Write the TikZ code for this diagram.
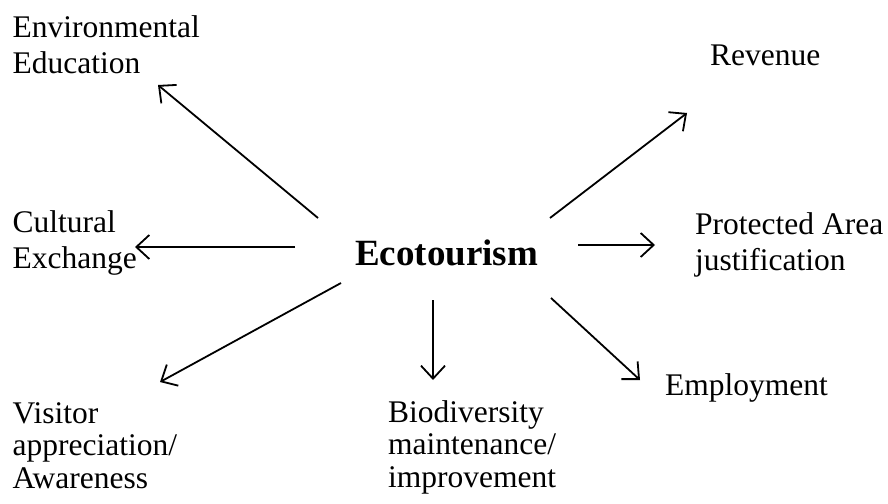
\documentclass[tikz,border=0pt]{standalone}
\usepackage{fontspec}
\setmainfont{Liberation Serif}
\usetikzlibrary{arrows.meta}
\begin{document}
\begin{tikzpicture}[x=1pt,y=-1pt,
  lbl/.style={anchor=base west, inner sep=0pt, align=left, font=\fontsize{31.5}{36}\selectfont},
  tight/.style={font=\fontsize{31.5}{32.5}\selectfont},
  arr/.style={-{Straight Barb[length=13pt,width=24pt,line width=1.8pt]}, line width=1.8pt}]
\useasboundingbox (0,0) rectangle (888,503);
% labels (anchor = baseline of last line)
\node[anchor=base west, inner sep=0pt, font=\bfseries\fontsize{37}{44}\selectfont] (eco) at (355,265) {Ecotourism};
\node[lbl] (env) at (12.5,74) {Environmental\\Education};
\node[lbl] (rev) at (710,65) {Revenue};
\node[lbl] (cul) at (12.5,268) {Cultural\\Exchange};
\node[lbl] (pro) at (695,270) {Protected Area\\justification};
\node[lbl,tight] (vis) at (12.5,488) {Visitor\\appreciation/\\Awareness};
\node[lbl,tight] (bio) at (388,487) {Biodiversity\\maintenance/\\improvement};
\node[lbl] (emp) at (665,395) {Employment};
% connector ends
\coordinate (t1) at (318,218);  \coordinate (h1) at (158,85);
\coordinate (t2) at (550,218);  \coordinate (h2) at (687,113);
\coordinate (t3) at (295,247);  \coordinate (h3) at (135,247);
\coordinate (t4) at (578,245);  \coordinate (h4) at (655,245);
\coordinate (t5) at (341,283);  \coordinate (h5) at (160,382);
\coordinate (t6) at (433,300);  \coordinate (h6) at (433,380);
\coordinate (t7) at (551,298);  \coordinate (h7) at (640,380);
\draw[arr] (t1) -- (h1);
\draw[arr] (t2) -- (h2);
\draw[arr] (t3) -- (h3);
\draw[arr] (t4) -- (h4);
\draw[arr] (t5) -- (h5);
\draw[arr] (t6) -- (h6);
\draw[arr] (t7) -- (h7);
\end{tikzpicture}
\end{document}
